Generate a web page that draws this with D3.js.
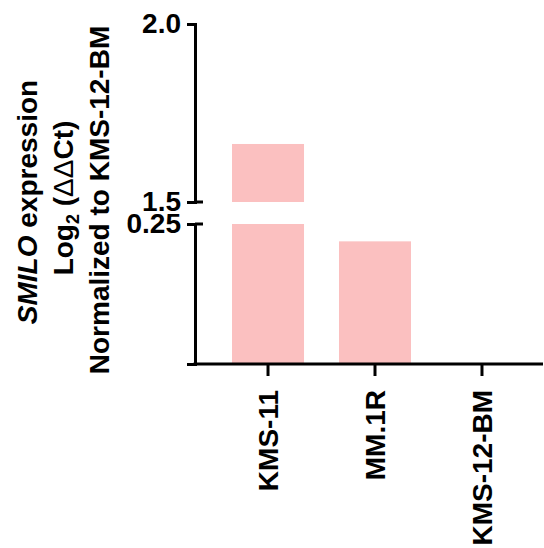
<!DOCTYPE html>
<html>
<head>
<meta charset="utf-8">
<script src="https://cdn.jsdelivr.net/npm/d3@7"></script>
<style>
  body { margin: 0; background: #fff; }
  svg { display: block; font-family: Arial, "Liberation Sans", sans-serif; }
</style>
</head>
<body>
<div id="chart"></div>
<script>
// data
const cellLines = ['KMS-11', 'MM.1R', 'KMS-12-BM'];
const expression = [1.663, 0.219, 0];
const upperTicks = [1.5, 2.0];
const lowerTicks = [0.25];

const width = 544, height = 548;
const axisX = 195;
const barColor = '#fbc0c0';

const svg = d3.select('#chart').append('svg')
  .attr('width', width)
  .attr('height', height);

// Scales: broken y axis, two segments
const x = d3.scaleBand()
  .domain(cellLines)
  .range([axisX, 555])
  .paddingInner(0.327)
  .paddingOuter(0.346);

const yUpper = d3.scaleLinear().domain([1.5, 2.0]).range([202, 24]);
const yLower = d3.scaleLinear().domain([0, 0.25]).range([364, 224]);

// Bars
const data = cellLines.map((name, i) => ({ name, value: expression[i] }));

svg.append('g').selectAll('rect.lower')
  .data(data.filter(d => d.value > 0))
  .join('rect')
  .attr('class', 'lower')
  .attr('x', d => x(d.name))
  .attr('width', x.bandwidth())
  .attr('y', d => yLower(Math.min(d.value, 0.25)))
  .attr('height', d => yLower(0) - yLower(Math.min(d.value, 0.25)))
  .attr('fill', barColor);

svg.append('g').selectAll('rect.upper')
  .data(data.filter(d => d.value > 1.5))
  .join('rect')
  .attr('class', 'upper')
  .attr('x', d => x(d.name))
  .attr('width', x.bandwidth())
  .attr('y', d => yUpper(d.value))
  .attr('height', d => yUpper(1.5) - yUpper(d.value))
  .attr('fill', barColor);

// Y axes
function styleAxis(g) {
  g.selectAll('path, line').attr('stroke', '#000').attr('stroke-width', 3);
  g.selectAll('text')
    .attr('font-size', '28px')
    .attr('font-weight', 'bold')
    .attr('fill', '#000')
    .attr('font-family', 'Arial, "Liberation Sans", sans-serif');
}

const upperAxis = svg.append('g')
  .attr('transform', `translate(${axisX},0)`)
  .call(d3.axisLeft(yUpper).tickValues(upperTicks).tickFormat(d3.format('.1f')).tickSizeOuter(0).tickSize(8).tickPadding(6))
  .call(styleAxis);

const lowerAxis = svg.append('g')
  .attr('transform', `translate(${axisX},0)`)
  .call(d3.axisLeft(yLower).tickValues(lowerTicks).tickFormat(d3.format('.2f')).tickSizeOuter(0).tickSize(8).tickPadding(6))
  .call(styleAxis);

// break caps extend to the right of the axis
[yUpper(1.5), yLower(0.25)].forEach(yy => {
  svg.append('line')
    .attr('x1', axisX).attr('x2', axisX + 8)
    .attr('y1', yy).attr('y2', yy)
    .attr('stroke', '#000').attr('stroke-width', 3);
});

// X axis
const xAxis = svg.append('g')
  .attr('transform', `translate(0,${yLower(0)})`)
  .call(d3.axisBottom(x).tickSize(12).tickSizeOuter(0));
xAxis.select('.domain').remove();
xAxis.selectAll('line').attr('stroke', '#000').attr('stroke-width', 3);
xAxis.selectAll('text')
  .attr('font-size', '28px')
  .attr('font-weight', 'bold')
  .attr('fill', '#000')
  .attr('font-family', 'Arial, "Liberation Sans", sans-serif')
  .attr('text-anchor', 'end')
  .attr('transform', 'translate(0,26) rotate(-90)')
  .attr('x', 0)
  .attr('y', 0)
  .attr('dy', '0.36em');

svg.append('line')
  .attr('x1', axisX - 1.5).attr('x2', 543)
  .attr('y1', yLower(0)).attr('y2', yLower(0))
  .attr('stroke', '#000').attr('stroke-width', 3);

// Y title, three rotated lines
const title = svg.append('g')
  .attr('font-size', '28px')
  .attr('font-weight', 'bold')
  .attr('fill', '#000');

const l1 = title.append('text')
  .attr('transform', 'translate(37,202) rotate(-90)')
  .attr('text-anchor', 'middle');
l1.append('tspan').attr('font-style', 'italic').text('SMILO');
l1.append('tspan').text(' expression');

const l2 = title.append('text')
  .attr('transform', 'translate(73,198) rotate(-90)')
  .attr('text-anchor', 'middle');
l2.append('tspan').text('Log');
l2.append('tspan').attr('font-size', '18px').attr('dy', '6').text('2');
l2.append('tspan').attr('dy', '-6').text(' (');
l2.append('tspan').attr('font-weight', 'normal').text('ΔΔ');
l2.append('tspan').text('Ct)');

title.append('text')
  .attr('transform', 'translate(109,200) rotate(-90)')
  .attr('text-anchor', 'middle')
  .text('Normalized to KMS-12-BM');
</script>
</body>
</html>
